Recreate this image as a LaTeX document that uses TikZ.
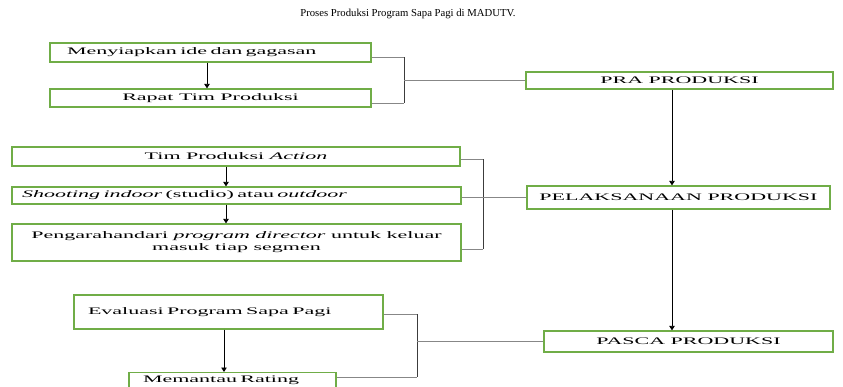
\documentclass[tikz,border=0pt]{standalone}
\usepackage{fontspec}
\setmainfont{Liberation Serif}
\newfontfamily\widefont[FakeStretch=2.2]{Liberation Serif}
\usetikzlibrary{arrows.meta,calc}
\definecolor{boxgreen}{RGB}{112,173,71}
\definecolor{linegray}{RGB}{135,135,135}
\definecolor{bardark}{RGB}{60,60,60}
\begin{document}
\begin{tikzpicture}[x=1pt,y=-1pt,
  box/.style={draw=boxgreen,line width=1.3pt,inner sep=0pt,fill=white,
    font=\widefont\fontsize{10}{12}\selectfont,align=center},
  arr/.style={draw=black,line width=0.8pt,-{Triangle[length=4.5pt,width=5.5pt]}},
  brk/.style={draw=linegray,line width=0.8pt},
  vbar/.style={draw=bardark,line width=0.8pt},
  ttl/.style={font=\fontsize{10.7}{12}\selectfont}
  ]
\useasboundingbox (0,0) rectangle (843,386);
\fill[white] (0,0) rectangle (843,386);

\node[ttl] (title) at (408,14) {Proses Produksi Program Sapa Pagi di MADUTV.};

% PRA PRODUKSI group
\node[box,minimum width=321,minimum height=19,text width=287,align=left] (m1) at (210.5,52.5) {Menyiapkan ide dan gagasan};
\node[box,minimum width=321,minimum height=18] (m2) at (210.5,98) {Rapat Tim Produksi};
\node[box,minimum width=307,minimum height=17] (pra) at (679.5,80.5) {PRA PRODUKSI};

% PELAKSANAAN group
\node[box,minimum width=448,minimum height=19] (t1) at (236,156.5) {Tim Produksi \textit{Action}};
\node[box,minimum width=449,minimum height=17,text width=429,align=left] (t2) at (236.5,195.5) {\textit{Shooting indoor} (studio) atau \textit{outdoor}};
\node[box,minimum width=449,minimum height=37] (t3) at (236.5,242.5) {Pengarahandari \textit{program director} untuk keluar\\masuk tiap segmen};
\node[box,minimum width=303,minimum height=23] (pel) at (678.5,197.5) {PELAKSANAAN PRODUKSI};

% PASCA group
\node[box,minimum width=309,minimum height=34,text width=281,align=left] (e1) at (228.5,312) {Evaluasi Program Sapa Pagi};
\node[box,anchor=north,minimum width=207,text width=179,align=left,inner ysep=2pt,text height=7.5pt,text depth=20pt] (e2) at (232.5,372) {Memantau Rating};
\node[box,minimum width=289,minimum height=21] (pasca) at (688.5,341.5) {PASCA PRODUKSI};

% arrows within groups
\draw[arr] ([xshift=-3.5pt]m1.south) -- ([xshift=-3.5pt]m1.south |- m2.north);
\draw[arr] ([xshift=-10pt]t1.south) -- ([xshift=-10pt]t1.south |- t2.north);
\draw[arr] ([xshift=-10.5pt]t2.south) -- ([xshift=-10.5pt]t2.south |- t3.north);
\draw[arr] ([xshift=-4.5pt]e1.south) -- ([xshift=-4.5pt]e1.south |- e2.north);

% main flow arrows
\draw[arr] ([xshift=-7.5pt]pra.south) -- ([xshift=-7.5pt]pra.south |- pel.north);
\draw[arr] ([xshift=-6.5pt]pel.south) -- ([xshift=-6.5pt]pel.south |- pasca.north);

% bracket 1
\coordinate (b1) at (404,80.5);
\coordinate (p11) at ([yshift=-4.5pt]m1.east);
\coordinate (p12) at ([yshift=-5pt]m2.east);
\draw[brk] (p11) -- (p11 -| b1);
\draw[brk] (p12) -- (p12 -| b1);
\draw[vbar] (p11 -| b1) -- (p12 -| b1);
\draw[brk] (b1) -- (pra.west);

% bracket 2
\coordinate (b2) at (483,197.5);
\coordinate (p21) at ([yshift=-2.5pt]t1.east);
\coordinate (p23) at ([yshift=-6.5pt]t3.east);
\draw[brk] (p21) -- (p21 -| b2);
\draw[brk] (p23) -- (p23 -| b2);
\draw[vbar] (p21 -| b2) -- (p23 -| b2);
\draw[brk] (pel.west) -- (pel.west -| t2.east);

% bracket 3
\coordinate (b3) at (417,341.5);
\coordinate (p31) at ([yshift=-2pt]e1.east);
\coordinate (p32) at ([yshift=-5pt]e2.north east);
\draw[brk] (p31) -- (p31 -| b3);
\draw[brk] (p32) -- (p32 -| b3);
\draw[vbar] (p31 -| b3) -- (p32 -| b3);
\draw[brk] (b3) -- (pasca.west);
\end{tikzpicture}
\end{document}
